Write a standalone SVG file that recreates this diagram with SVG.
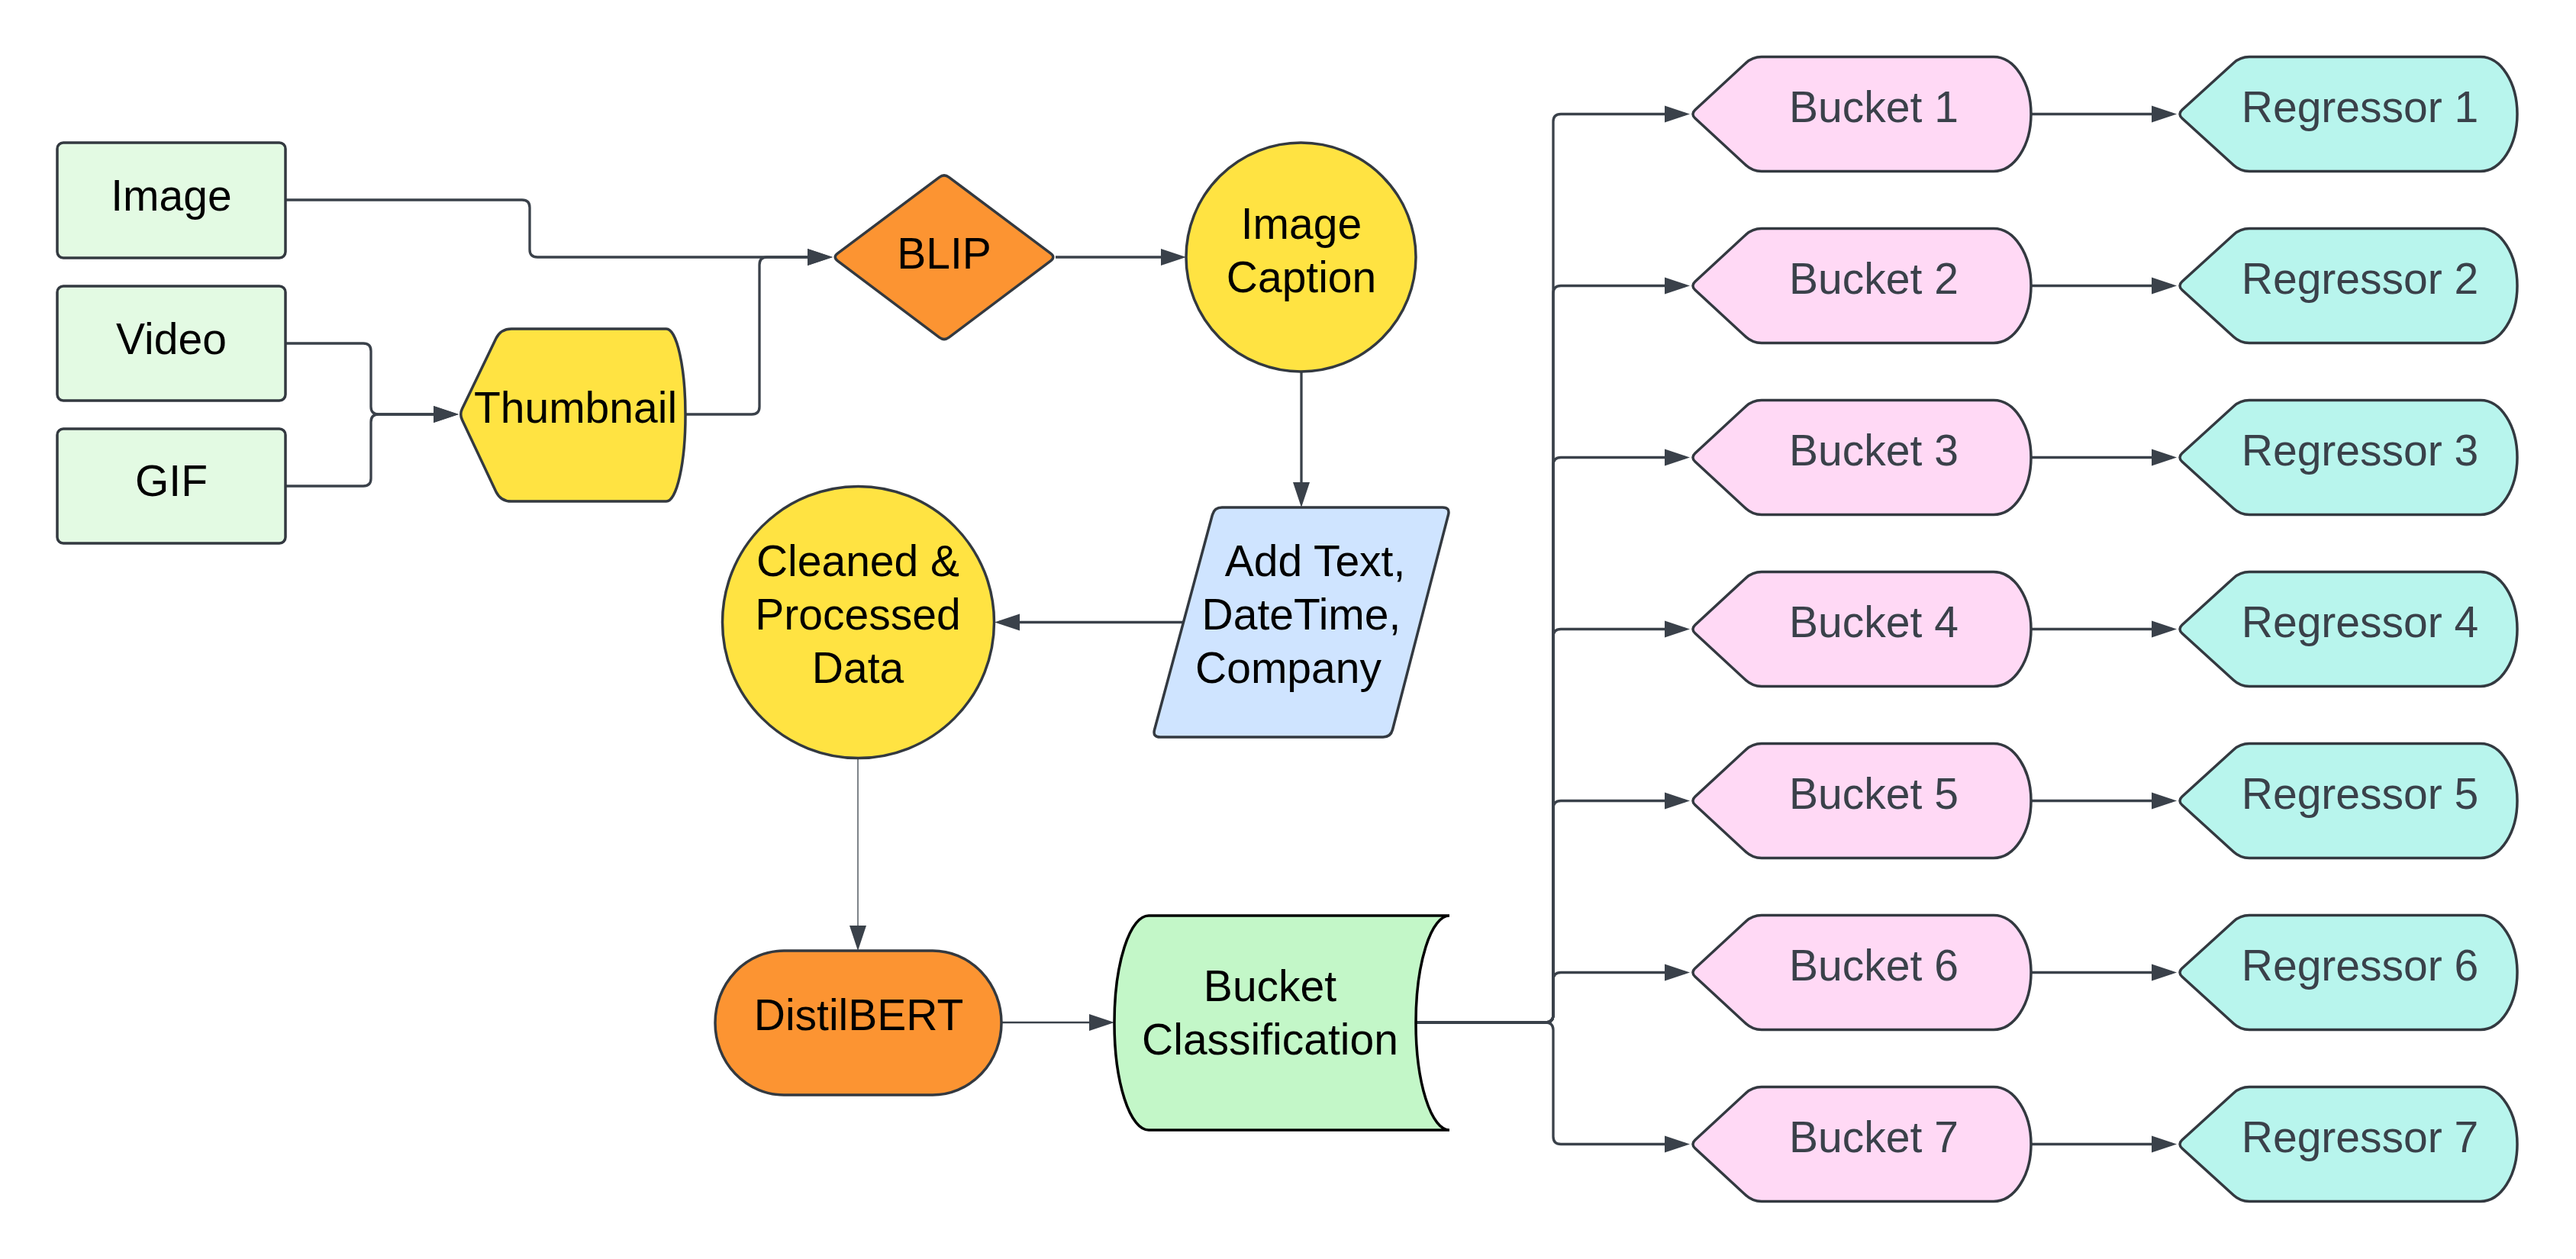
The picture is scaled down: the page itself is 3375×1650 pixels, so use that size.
<svg xmlns="http://www.w3.org/2000/svg" width="3375" height="1650" viewBox="0 0 3375 1650">
<style>
.n{stroke:#333940;stroke-width:3.5;stroke-linejoin:round}
.t{font-family:"Liberation Sans",Arial,sans-serif;font-size:57px;text-anchor:middle;fill:#000}
.g{fill:#3a414a}
.c{fill:none;stroke:#3a414a;stroke-width:3.3;stroke-linejoin:round}
.a{marker-end:url(#arr)}
.inp{fill:#e3fae3}
.yel{fill:#ffe342}
.org{fill:#fc9432}
.bk{fill:#ffd9f5}
.rg{fill:#b8f5ed}
</style>
<defs>
<marker id="arr" markerUnits="userSpaceOnUse" markerWidth="34" markerHeight="24" refX="27" refY="12" orient="auto">
<path d="M0,1 L33,12 L0,23 Z" fill="#3a414a"/>
</marker>
<path id="bucketShape" d="M2220.9 -5.5 L2287.2 -66.8 Q2296 -75 2308 -75 L2612 -75 A49 75 0 0 1 2612 75 L2308 75 Q2296 75 2287.2 66.8 L2220.9 5.5 Q2215 0 2220.9 -5.5 Z"/>
<path id="regShape" d="M2858.9 -5.5 L2926.2 -66.8 Q2935 -75 2947 -75 L3250 -75 A48 75 0 0 1 3250 75 L2947 75 Q2935 75 2926.2 66.8 L2858.9 5.5 Q2853 0 2858.9 -5.5 Z"/>
</defs>
<rect width="3375" height="1650" fill="#fff"/>

<g id="connectors">
<path class="c a" d="M374 262 L684 262 Q694 262 694 272 L694 327 Q694 337 704 337 L1085 337"/>
<path class="c a" d="M898 543 L985 543 Q995 543 995 533 L995 347 Q995 337 1005 337 L1085 337"/>
<path class="c a" d="M374 450 L476 450 Q486 450 486 460 L486 533 Q486 543 496 543 L595 543"/>
<path class="c a" d="M374 637 L476 637 Q486 637 486 627 L486 553 Q486 543 496 543 L595 543"/>
<path class="c a" d="M1383 337 L1548 337"/>
<path class="c a" d="M1705 487 L1705 659"/>
<path class="c a" d="M1550 815.5 L1309 815.5"/>
<path class="c a" style="stroke-width:1.3" d="M1124 993 L1124 1240"/>
<path class="c a" style="stroke-width:2.6" d="M1312 1340 L1454 1340"/>
<path class="c a" d="M1855 1340 L2025 1340 Q2035 1340 2035 1330 L2035 159.5 Q2035 149.5 2045 149.5 L2208 149.5"/>
<path class="c a" d="M1855 1340 L2025 1340 Q2035 1340 2035 1330 L2035 384.5 Q2035 374.5 2045 374.5 L2208 374.5"/>
<path class="c a" d="M1855 1340 L2025 1340 Q2035 1340 2035 1330 L2035 609.5 Q2035 599.5 2045 599.5 L2208 599.5"/>
<path class="c a" d="M1855 1340 L2025 1340 Q2035 1340 2035 1330 L2035 834.5 Q2035 824.5 2045 824.5 L2208 824.5"/>
<path class="c a" d="M1855 1340 L2025 1340 Q2035 1340 2035 1330 L2035 1059.5 Q2035 1049.5 2045 1049.5 L2208 1049.5"/>
<path class="c a" d="M1855 1340 L2025 1340 Q2035 1340 2035 1330 L2035 1284.5 Q2035 1274.5 2045 1274.5 L2208 1274.5"/>
<path class="c a" d="M1855 1340 L2025 1340 Q2035 1340 2035 1350 L2035 1489.5 Q2035 1499.5 2045 1499.5 L2208 1499.5"/>
<path class="c a" d="M2661 149.5 L2846 149.5"/>
<path class="c a" d="M2661 374.5 L2846 374.5"/>
<path class="c a" d="M2661 599.5 L2846 599.5"/>
<path class="c a" d="M2661 824.5 L2846 824.5"/>
<path class="c a" d="M2661 1049.5 L2846 1049.5"/>
<path class="c a" d="M2661 1274.5 L2846 1274.5"/>
<path class="c a" d="M2661 1499.5 L2846 1499.5"/>
</g>

<g id="image">
<rect class="n inp" x="75" y="187" width="299" height="151" rx="8"/>
<text class="t" x="224.5" y="276">Image</text>
</g>
<g id="video">
<rect class="n inp" x="75" y="375" width="299" height="150" rx="8"/>
<text class="t" x="224.5" y="464">Video</text>
</g>
<g id="gif">
<rect class="n inp" x="75" y="562" width="299" height="150" rx="8"/>
<text class="t" x="224.5" y="650">GIF</text>
</g>
<g id="thumbnail">
<path class="n yel" d="M605.5 535.8 L649.9 443.6 Q656 431 670 431 L873 431 A25 113 0 0 1 873 657 L670 657 Q656 657 649.9 644.4 L605.5 550.2 Q602 543 605.5 535.8 Z"/>
<text class="t" x="754" y="554">Thumbnail</text>
</g>
<g id="blip">
<path class="n org" d="M1097.4 332.2 L1230.6 232.3 Q1237 227.5 1243.4 232.3 L1376.6 332.2 Q1383 337 1376.6 341.8 L1243.4 442.2 Q1237 447 1230.6 442.2 L1097.4 341.8 Q1091 337 1097.4 332.2 Z"/>
<text class="t" x="1237" y="352">BLIP</text>
</g>
<g id="image-caption">
<ellipse class="n yel" cx="1704.5" cy="337" rx="150.5" ry="150"/>
<text class="t" x="1705" y="313">Image</text>
<text class="t" x="1705" y="383">Caption</text>
</g>
<g id="add-text">
<path class="n" fill="#cfe4ff" d="M1601 665 L1890 665 Q1900 665 1897.5 674.7 L1824.5 956.3 Q1822 966 1812 966 L1520 966 Q1510 966 1512.6 956.3 L1588.4 674.7 Q1591 665 1601 665 Z"/>
<text class="t" x="1723" y="755">Add Text,</text>
<text class="t" x="1705" y="825">DateTime,</text>
<text class="t" x="1688" y="895">Company</text>
</g>
<g id="cleaned-data">
<ellipse class="n yel" cx="1124.5" cy="815.5" rx="178" ry="178"/>
<text class="t" x="1124" y="755">Cleaned &amp;</text>
<text class="t" x="1124" y="825">Processed</text>
<text class="t" x="1124" y="895">Data</text>
</g>
<g id="distilbert">
<rect class="n org" x="937" y="1246" width="375" height="189" rx="90" ry="94.5"/>
<text class="t" x="1125" y="1350">DistilBERT</text>
</g>
<g id="bucket-classification">
<path d="M1505 1200 L1899 1200 A44 140.5 0 0 0 1899 1481 L1505 1481 A45 140.5 0 0 1 1505 1200 Z" fill="#c3f7c8" stroke="#000" stroke-width="3.5"/>
<text class="t" x="1664" y="1312">Bucket</text>
<text class="t" x="1664" y="1382">Classification</text>
</g>

<g id="bucket-1"><use href="#bucketShape" class="n bk" transform="translate(0,149.5)"/><text class="t g" x="2455" y="160">Bucket 1</text></g>
<g id="bucket-2"><use href="#bucketShape" class="n bk" transform="translate(0,374.5)"/><text class="t g" x="2455" y="385">Bucket 2</text></g>
<g id="bucket-3"><use href="#bucketShape" class="n bk" transform="translate(0,599.5)"/><text class="t g" x="2455" y="610">Bucket 3</text></g>
<g id="bucket-4"><use href="#bucketShape" class="n bk" transform="translate(0,824.5)"/><text class="t g" x="2455" y="835">Bucket 4</text></g>
<g id="bucket-5"><use href="#bucketShape" class="n bk" transform="translate(0,1049.5)"/><text class="t g" x="2455" y="1060">Bucket 5</text></g>
<g id="bucket-6"><use href="#bucketShape" class="n bk" transform="translate(0,1274.5)"/><text class="t g" x="2455" y="1285">Bucket 6</text></g>
<g id="bucket-7"><use href="#bucketShape" class="n bk" transform="translate(0,1499.5)"/><text class="t g" x="2455" y="1510">Bucket 7</text></g>

<g id="regressor-1"><use href="#regShape" class="n rg" transform="translate(0,149.5)"/><text class="t g" x="3092" y="160">Regressor 1</text></g>
<g id="regressor-2"><use href="#regShape" class="n rg" transform="translate(0,374.5)"/><text class="t g" x="3092" y="385">Regressor 2</text></g>
<g id="regressor-3"><use href="#regShape" class="n rg" transform="translate(0,599.5)"/><text class="t g" x="3092" y="610">Regressor 3</text></g>
<g id="regressor-4"><use href="#regShape" class="n rg" transform="translate(0,824.5)"/><text class="t g" x="3092" y="835">Regressor 4</text></g>
<g id="regressor-5"><use href="#regShape" class="n rg" transform="translate(0,1049.5)"/><text class="t g" x="3092" y="1060">Regressor 5</text></g>
<g id="regressor-6"><use href="#regShape" class="n rg" transform="translate(0,1274.5)"/><text class="t g" x="3092" y="1285">Regressor 6</text></g>
<g id="regressor-7"><use href="#regShape" class="n rg" transform="translate(0,1499.5)"/><text class="t g" x="3092" y="1510">Regressor 7</text></g>
</svg>
